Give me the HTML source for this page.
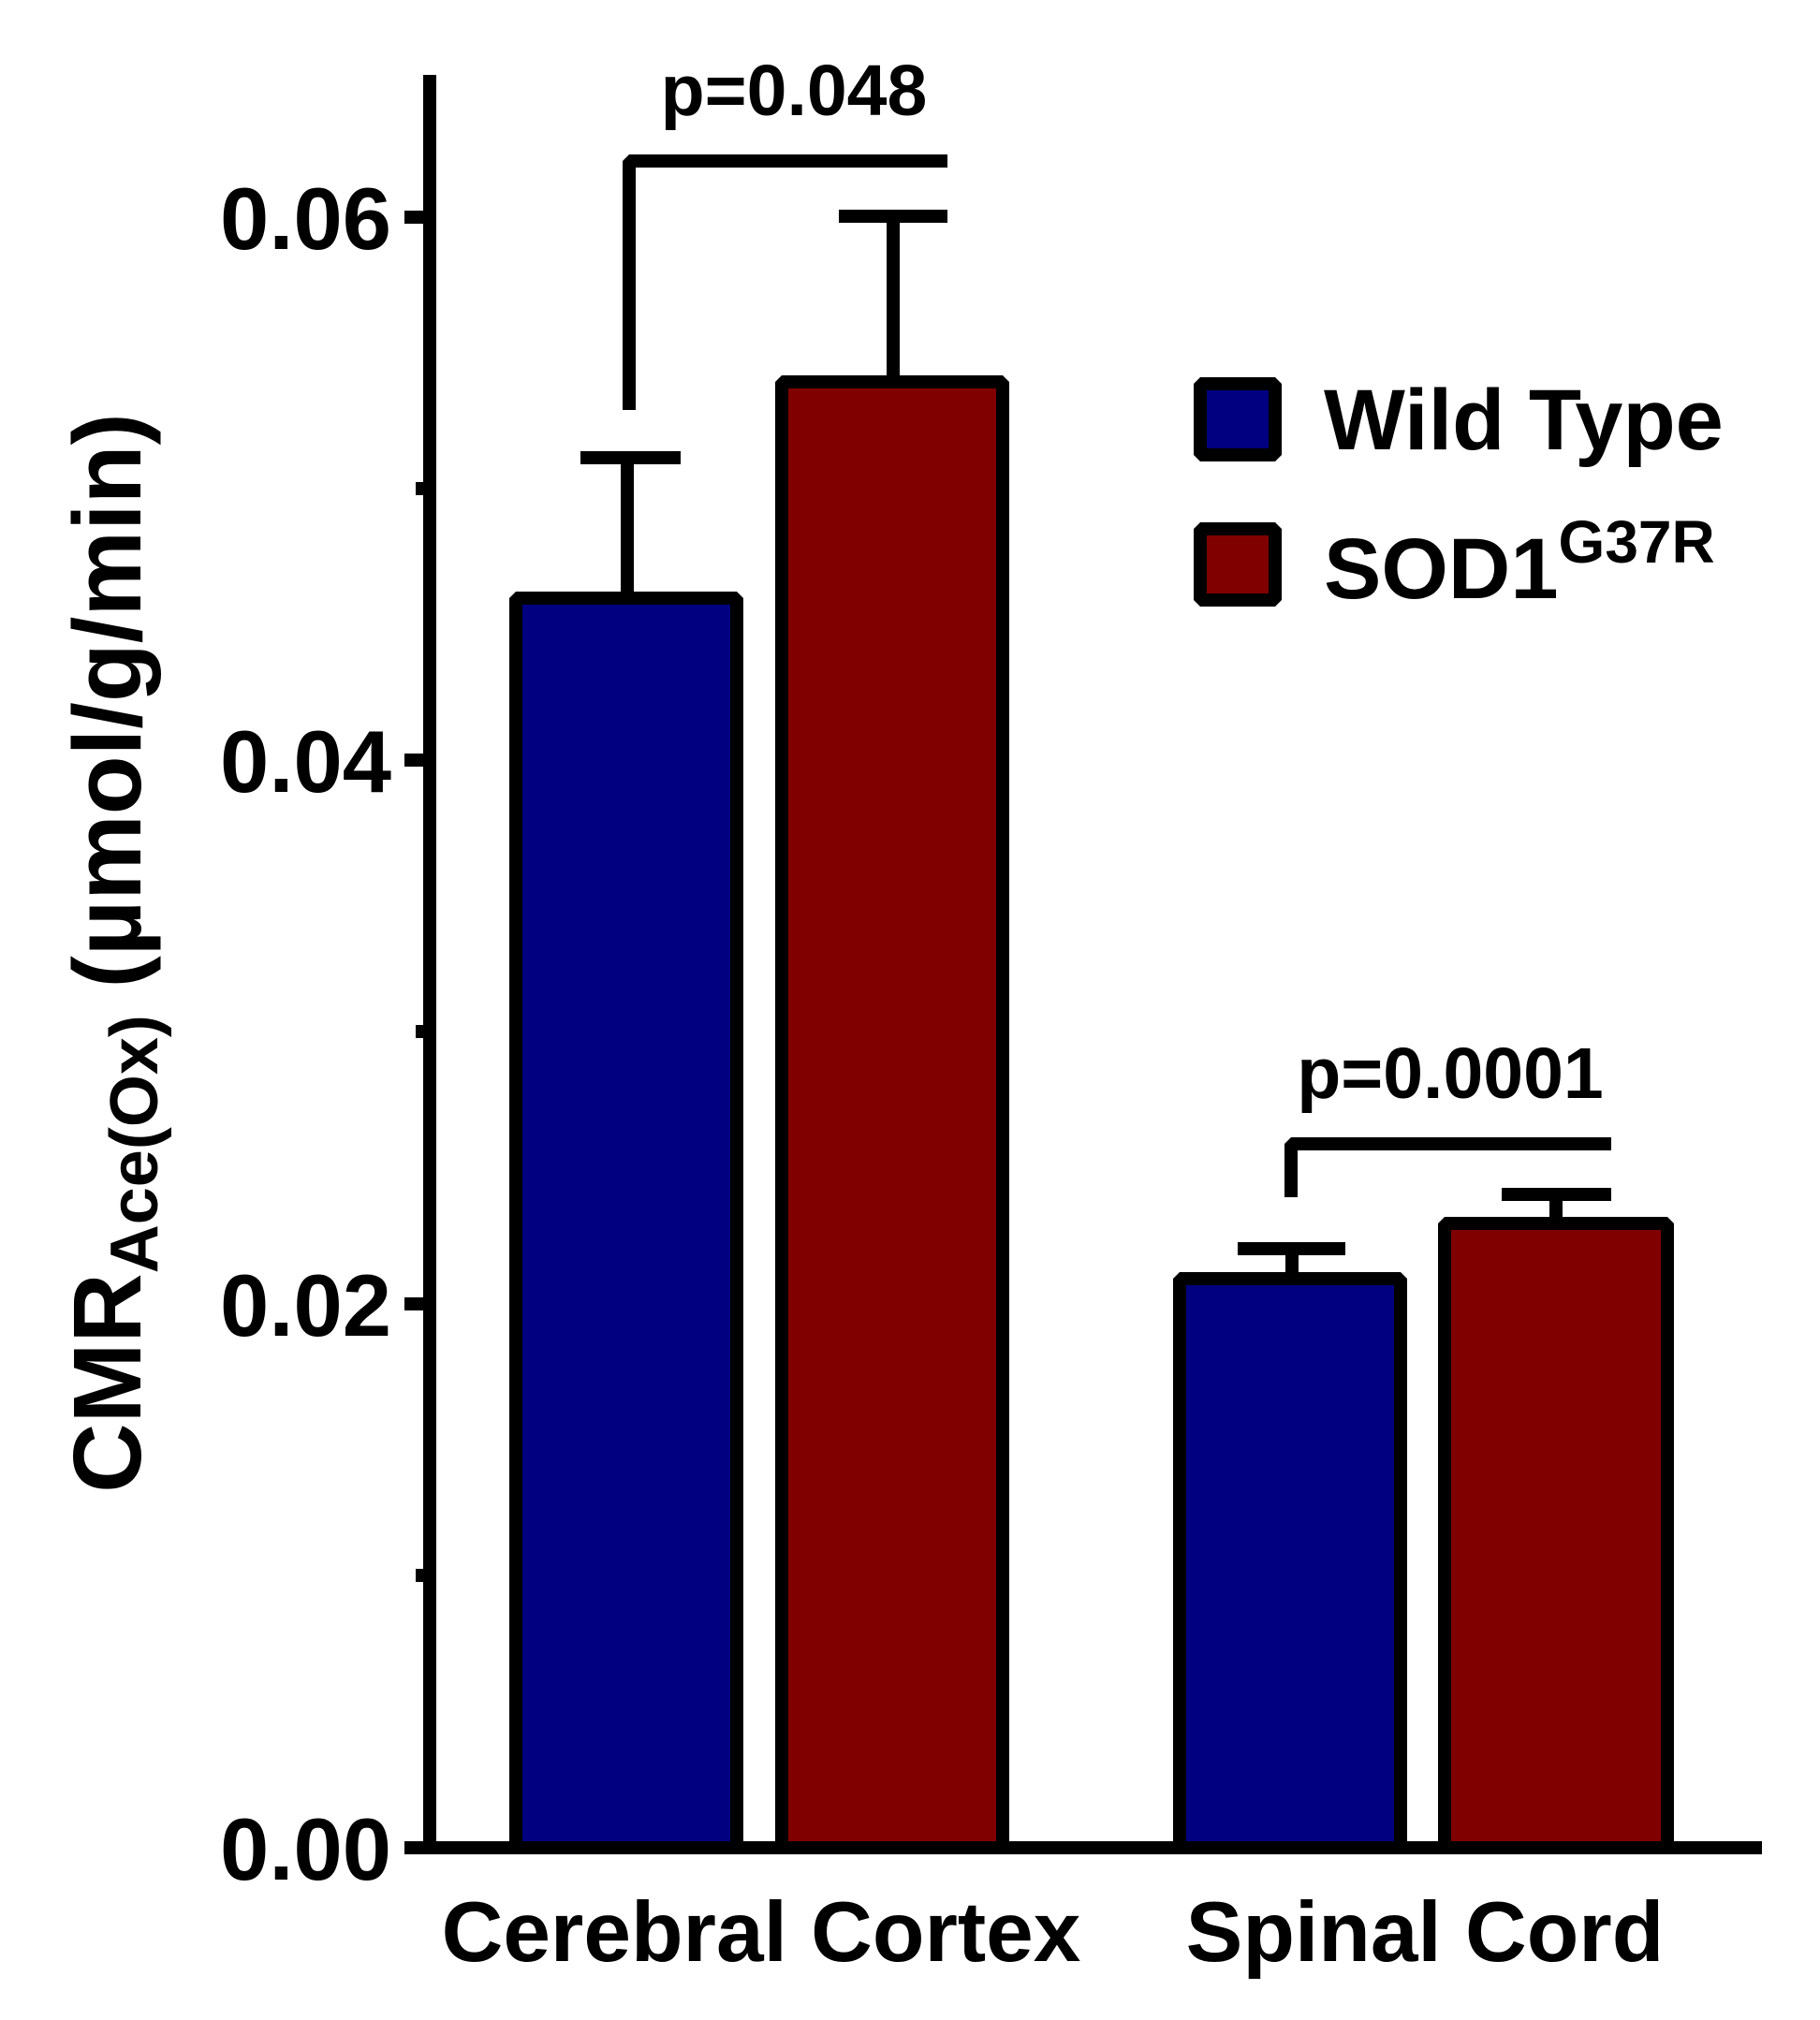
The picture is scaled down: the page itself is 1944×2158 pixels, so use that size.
<!DOCTYPE html>
<html><head><style>html,body{margin:0;padding:0;background:#fff}svg{display:block}</style></head>
<body>
<svg width="1944" height="2158" viewBox="0 0 1944 2158" xmlns="http://www.w3.org/2000/svg" font-family="Liberation Sans, Arial, sans-serif" font-weight="bold">
<rect width="1944" height="2158" fill="#fff"/>
<g stroke="#000" stroke-width="14" stroke-linejoin="bevel">
<rect x="551" y="639" width="236" height="1335" fill="#000080"/>
<rect x="835" y="408" width="236" height="1566" fill="#800000"/>
<rect x="1260" y="1366" width="236" height="608" fill="#000080"/>
<rect x="1543" y="1307" width="238" height="667" fill="#800000"/>
</g>
<g stroke="#000" stroke-width="14" fill="none">
<line x1="670" y1="639" x2="670" y2="489"/><line x1="620" y1="489" x2="727" y2="489"/>
<line x1="954" y1="408" x2="954" y2="231"/><line x1="896" y1="231" x2="1012" y2="231"/>
<line x1="1380" y1="1366" x2="1380" y2="1334"/><line x1="1322" y1="1334" x2="1437" y2="1334"/>
<line x1="1662" y1="1307" x2="1662" y2="1276"/><line x1="1604" y1="1276" x2="1721" y2="1276"/>
<polyline points="672,438 672,172 1012,172" stroke-linejoin="bevel"/>
<polyline points="1379,1279 1379,1222 1721,1222" stroke-linejoin="bevel"/>
<line x1="459" y1="80" x2="459" y2="1981"/>
<line x1="452" y1="1974" x2="1882" y2="1974"/>
<line x1="432" y1="232" x2="459" y2="232"/>
<line x1="432" y1="812" x2="459" y2="812"/>
<line x1="432" y1="1393" x2="459" y2="1393"/>
<line x1="432" y1="1974" x2="459" y2="1974"/>
<line x1="444" y1="522" x2="459" y2="522"/>
<line x1="444" y1="1102" x2="459" y2="1102"/>
<line x1="444" y1="1683" x2="459" y2="1683"/>
</g>
<g font-size="94" text-anchor="end">
<text x="418" y="266">0.06</text>
<text x="418" y="846">0.04</text>
<text x="418" y="1427">0.02</text>
<text x="418" y="2008">0.00</text>
</g>
<text x="848" y="123" font-size="77" text-anchor="middle">p=0.048</text>
<text x="1549" y="1173" font-size="77" text-anchor="middle">p=0.0001</text>
<text x="813" y="2095" font-size="91" text-anchor="middle">Cerebral Cortex</text>
<text x="1522" y="2095" font-size="91" text-anchor="middle">Spinal Cord</text>
<g stroke="#000" stroke-width="14" stroke-linejoin="bevel">
<rect x="1282" y="410" width="80" height="76" fill="#000080"/>
<rect x="1282" y="565" width="80" height="76" fill="#800000"/>
</g>
<text x="1414" y="480" font-size="92">Wild Type</text>
<text x="1414" y="639" font-size="92">SOD1<tspan font-size="64" dy="-38">G37R</tspan></text>
<text transform="translate(150,1018) rotate(-90)" font-size="103" text-anchor="middle">CMR<tspan font-size="72" dy="18">Ace(Ox)</tspan><tspan dy="-18"> (µmol/g/min)</tspan></text>
</svg>
</body></html>
